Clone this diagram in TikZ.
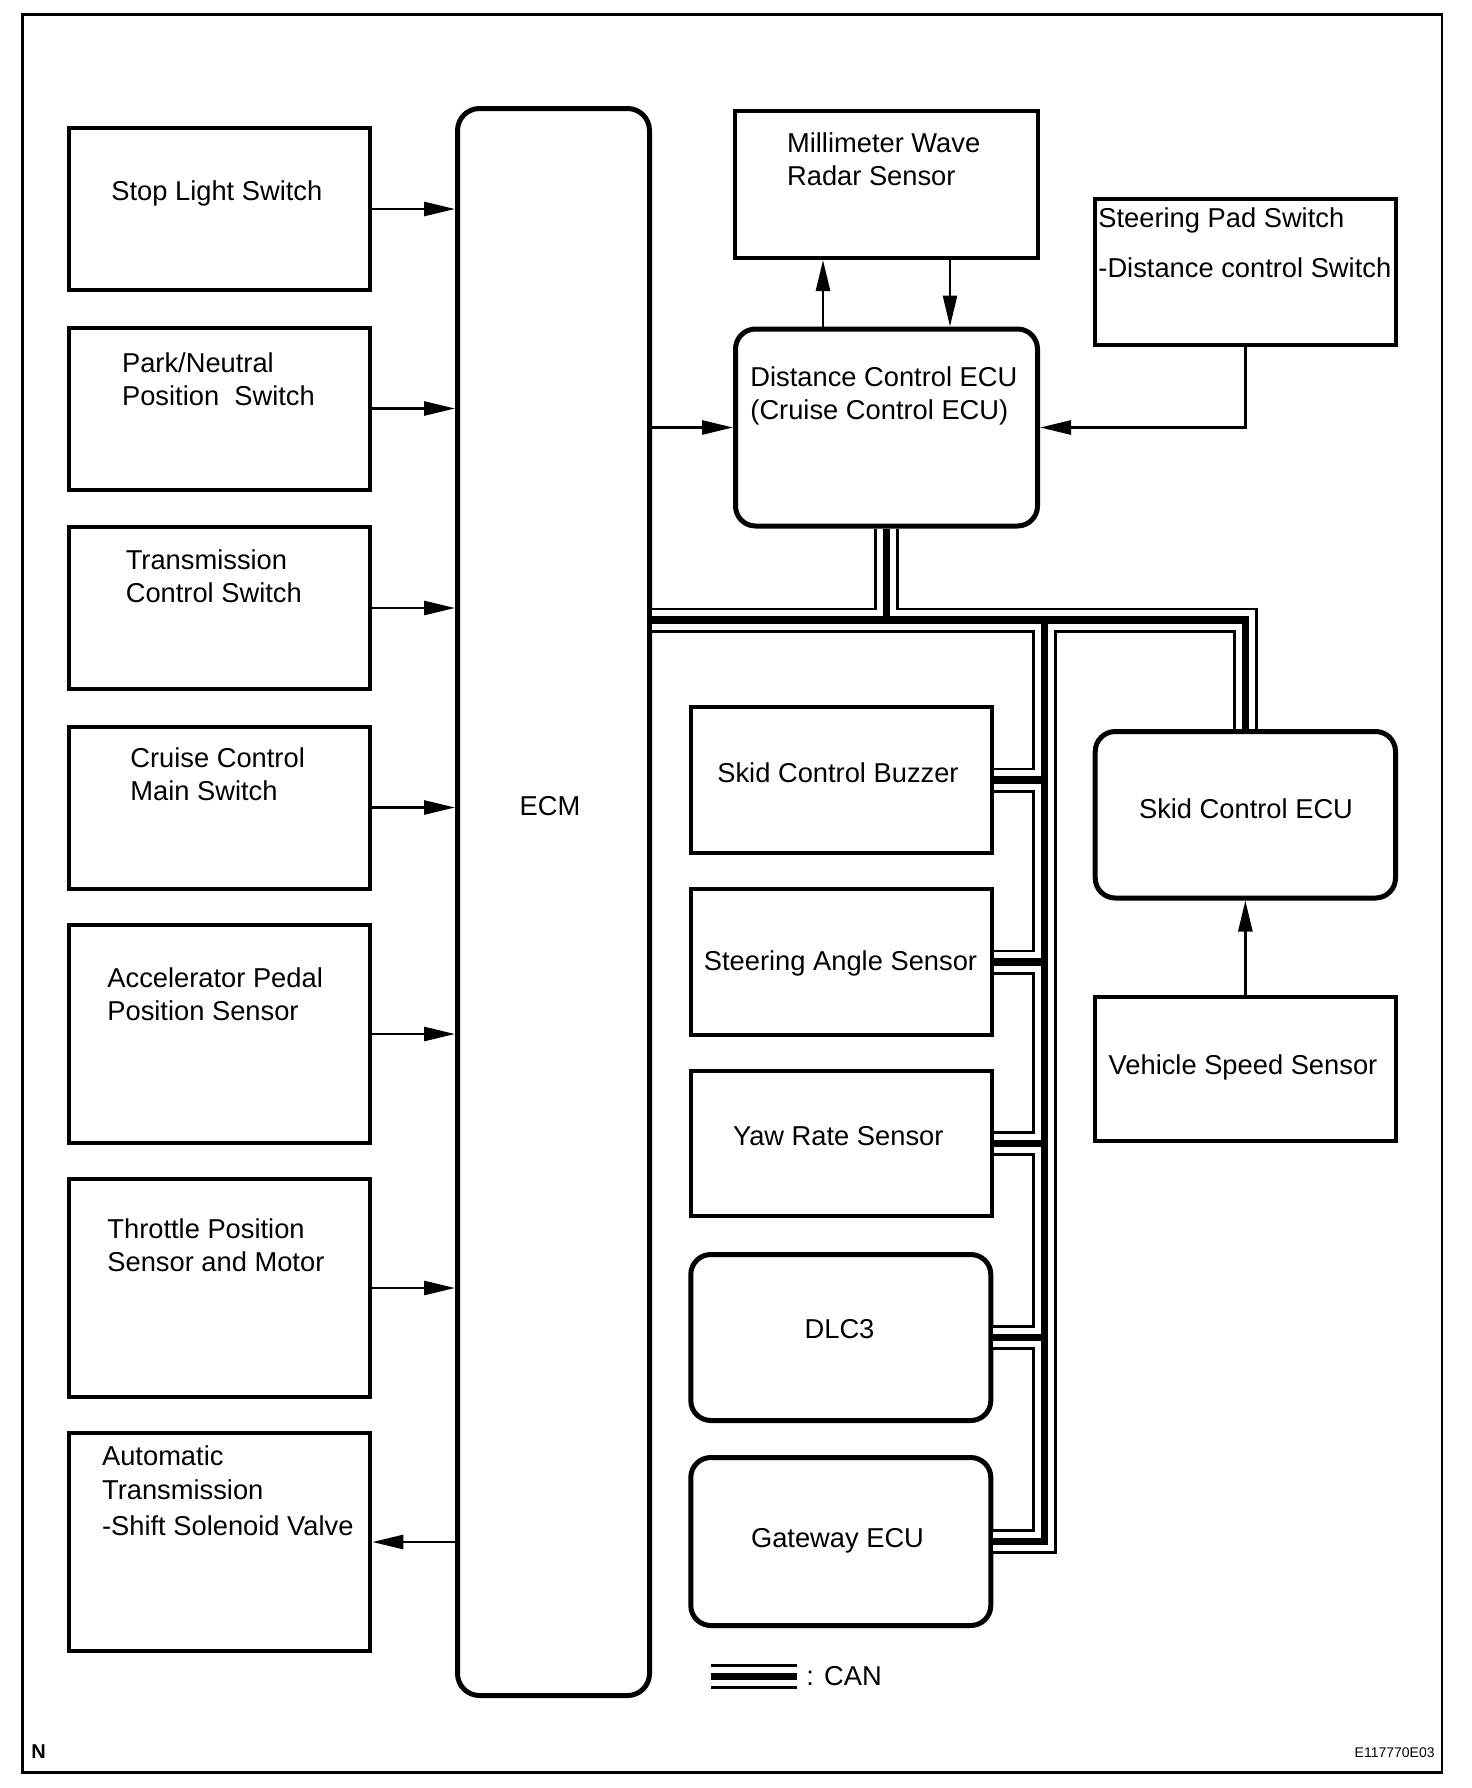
\documentclass[tikz,border=0pt]{standalone}
\usepackage{fontspec}
\setmainfont{Liberation Sans}
\usetikzlibrary{arrows.meta,fit}
\newcommand\fs{\fontsize{13.65pt}{16.5pt}\selectfont}
\newcommand\ml[1]{\begin{tabular}[t]{@{}l@{}}#1\end{tabular}}
\begin{document}
\begin{tikzpicture}[x=0.5pt,y=-0.5pt,
  box/.style={draw, line width=2pt, inner sep=0pt},
  rbox/.style={draw, line width=2.5pt, inner sep=0pt, rounded corners=10pt},
  txt/.style={anchor=base west, inner sep=0pt, font=\fs},
  ctxt/.style={anchor=base, inner sep=0pt, font=\fs},
  arr/.style={line width=1.35pt, -{Triangle[length=15.5pt,width=7pt]}}]
\fill[white] (0,0) rectangle (1472,1788);
\useasboundingbox (0,0) rectangle (1472,1788);
\draw[line width=1.35pt] (22.5,14.5) rectangle (1442,1772.5);

% left column
\node[box, fit={(68.7,128) (370.3,290)}] (stop) {};
\node[box, fit={(68.7,327.5) (370.3,489.5)}] (park) {};
\node[box, fit={(68.7,527) (370.3,689)}] (trans) {};
\node[box, fit={(68.7,726.5) (370.3,888.5)}] (cruise) {};
\node[box, fit={(68.7,925) (370.3,1143)}] (accel) {};
\node[box, fit={(68.7,1179) (370.3,1397)}] (throt) {};
\node[box, fit={(68.7,1433) (370.3,1651)}] (auto) {};
% ECM
\node[rbox, rounded corners=11pt, fit={(457.5,108.5) (649.5,1695.5)}] (ecm) {};
% top middle
\node[box, fit={(735,111) (1038,258)}] (radar) {};
\node[rbox, fit={(735.5,329) (1037.5,526)}] (ecu) {};
\node[box, fit={(1094.7,199.3) (1396,344.7)}] (pad) {};
% right column
\node[rbox, fit={(1095.2,731.5) (1395.5,898)}] (skid) {};
\node[box, fit={(1094.7,997) (1396,1141.4)}] (vss) {};
% middle column
\node[box, fit={(691.3,707) (992,853)}] (buz) {};
\node[box, fit={(691.3,889) (992,1035)}] (sas) {};
\node[box, fit={(691.3,1071) (992,1216)}] (yaw) {};
\node[rbox, fit={(690.8,1254.5) (990.8,1420.5)}] (dlc) {};
\node[rbox, fit={(690.8,1457.5) (990.8,1625.5)}] (gw) {};

% texts
\node[txt] (tStop) at (111,200) {Stop Light Switch};
\node[txt] (tPark) at (121.7,372) {\ml{Park/Neutral\\Position~ Switch}};
\node[txt] (tTrans) at (125.4,569) {\ml{Transmission\\Control Switch}};
\node[txt] (tCruise) at (130,767) {\ml{Cruise Control\\Main Switch}};
\node[txt] (tAccel) at (107,987) {\ml{Accelerator Pedal\\Position Sensor}};
\node[txt] (tThr) at (107,1238) {\ml{Throttle Position\\Sensor and Motor}};
\node[txt] (tAuto) at (101.7,1465.7) {\ml{Automatic\\[0.5pt]Transmission\\[1.5pt]-Shift Solenoid Valve}};
\node[txt] (tRadar) at (786.7,152.7) {\ml{Millimeter Wave\\Radar Sensor}};
\node[txt] (tEcu) at (750,386.7) {\ml{Distance Control ECU\\(Cruise Control ECU)}};
\node[txt] (tPad) at (1098,227.3) {\ml{Steering Pad Switch\\[8.5pt]-Distance control Switch}};
\node[ctxt] (tEcm) at (550,815) {ECM};
\node[ctxt] (tSkid) at (1246,818) {Skid Control ECU};
\node[ctxt] (tVss) at (1243,1074) {Vehicle Speed Sensor};
\node[ctxt] (tBuz) at (838,782) {Skid Control Buzzer};
\node[ctxt] (tSas) at (840.5,970) {Steering Angle Sensor};
\node[ctxt] (tYaw) at (838.3,1145) {Yaw Rate Sensor};
\node[ctxt] (tDlc) at (839.5,1338) {DLC3};
\node[ctxt] (tGw) at (837.5,1547) {Gateway ECU};
\node[txt] (tCan) at (806,1685) {: CAN};
\node[anchor=base west, inner sep=0pt, font=\fontsize{10pt}{12pt}\selectfont\bfseries] (tN) at (31,1758) {N};
\node[anchor=base east, inner sep=0pt, font=\fontsize{7pt}{8pt}\selectfont] (tCode) at (1435,1757) {E117770E03};

% arrows into ECM
\draw[arr] (stop.east) -- (stop.east -| ecm.west);
\draw[arr] (park.east) -- (park.east -| ecm.west);
\draw[arr] (trans.east) -- (trans.east -| ecm.west);
\draw[arr] (cruise.east) -- (cruise.east -| ecm.west);
\draw[arr] (accel.east) -- (accel.east -| ecm.west);
\draw[arr] (throt.east) -- (throt.east -| ecm.west);
\draw[arr] (auto.east -| ecm.west) -- (auto.east);
\draw[arr] (ecm.east |- ecu.west) -- (ecu.west);
\coordinate (upx) at ([xshift=-31.75pt]ecu.north);
\coordinate (dnx) at ([xshift=31.75pt]ecu.north);
\draw[arr] (upx) -- (upx |- radar.south);
\draw[arr] (dnx |- radar.south) -- (dnx);
\draw[arr] (pad.south) |- (ecu.east);
\draw[arr] (vss.north) -- (skid.south);

% CAN bus
\coordinate (busy) at (0,620);
\coordinate (midx) at (1044.5,0);
\coordinate (leg1) at (711,1676.3);
\coordinate (leg2) at (797,1676.3);
\foreach \w/\c in {12.5pt/black,9.8pt/white,3.7pt/black}{
  \draw[line width=\w, draw=\c, line join=miter]
    (ecu.south) -- (ecu.south |- busy)
    (ecm.east |- busy) -- (skid.north |- busy) -- (skid.north)
    (midx |- busy) -- (midx |- gw.east) -- (gw.east)
    (buz.east) -- (midx |- buz.east)
    (sas.east) -- (midx |- sas.east)
    (yaw.east) -- (midx |- yaw.east)
    (dlc.east) -- (midx |- dlc.east)
    (leg1) -- (leg2);
}
\end{tikzpicture}
\end{document}
